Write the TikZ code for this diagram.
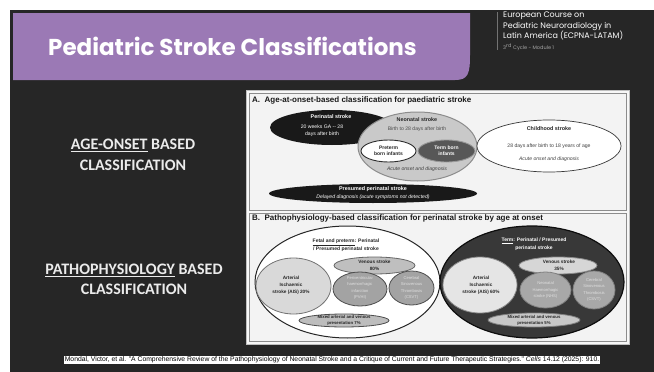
\documentclass[tikz,border=0pt]{standalone}
\usepackage{fontspec}
\setmainfont{Carlito}
\newfontfamily\titlefont{Poppins}
\newfontfamily\citefont{Liberation Sans}
\newfontfamily\figfont{Liberation Sans}
\usetikzlibrary{shapes.geometric}
\definecolor{slidebg}{RGB}{38,38,38}
\definecolor{purp}{RGB}{155,121,181}
\definecolor{panelbg}{RGB}{243,243,243}
\tikzset{
  ell/.style={ellipse, inner sep=0pt, draw=none},
  tx/.style={inner sep=0pt, align=center, text=black!85},
  hdA/.style={tx, font=\figfont\bfseries\fontsize{5.4}{6.8}\selectfont},
  nmA/.style={tx, font=\figfont\fontsize{5.1}{6.8}\selectfont},
  itA/.style={tx, font=\figfont\itshape\fontsize{5.1}{6.8}\selectfont},
  bB/.style={tx, font=\figfont\bfseries\fontsize{4.7}{7}\selectfont},
  sB/.style={tx, font=\figfont\fontsize{4.1}{6.6}\selectfont, text=black!12},
  mB/.style={tx, font=\figfont\bfseries\fontsize{4.3}{6}\selectfont},
  lbl/.style={inner sep=0pt, text=black!8, font=\bfseries\fontsize{16}{17}\selectfont},
  ptitle/.style={anchor=west, inner sep=0pt, font=\figfont\bfseries\fontsize{8}{9}\selectfont, text=black!90},
}
\begin{document}
\begin{tikzpicture}[x=1pt,y=-1pt]
\useasboundingbox (0,0) rectangle (654,372);
\fill[white] (0,0) rectangle (654,372);
\fill[slidebg] (10,10) rectangle (654,372);
% header
\fill[purp] (13,13) -- (470,13) -- (470,55) .. controls (470,74) and (468,80) .. (455,80) -- (13,80) -- cycle;
\node[anchor=west, inner sep=0pt, text=white, font=\titlefont\bfseries\fontsize{23}{24}\selectfont] (title) at (48,46) {Pediatric Stroke Classifications};
\draw[black!55, line width=.5pt] (497,12) -- (497,50);
\node[anchor=north west, inner sep=0pt, align=left, text=white, font=\titlefont\fontsize{8}{10.3}\selectfont] (course) at (503,12) {European Course on\\Pediatric Neuroradiology in\\Latin America (ECPNA-LATAM)};
\node[anchor=west, inner sep=0pt, text=black!35, font=\titlefont\fontsize{5}{5}\selectfont] (cycle) at (503,47) {3\textsuperscript{rd} Cycle - Module 1};
% left labels
\node[lbl] (age1) at (133,145) {\underline{AGE-ONSET} BASED};
\node[lbl] (age2) at (133,165) {CLASSIFICATION};
\node[lbl] (pat1) at (134,270) {\underline{PATHOPHYSIOLOGY} BASED};
\node[lbl] (pat2) at (134,289) {CLASSIFICATION};
% figure frame
\filldraw[fill=white!97!black, draw=black!25, line width=.6pt] (246,90) rectangle (629,344);
\filldraw[fill=panelbg, draw=black!45, line width=.8pt] (249,93) rectangle (626,210);
\filldraw[fill=panelbg, draw=black!45, line width=.8pt] (249,213) rectangle (626,341);
% panel A
\node[ptitle] (tA) at (252,100.5) {A.\ \ Age-at-onset-based classification for paediatric stroke};
\node[ell, fill=black!90, minimum width=124pt, minimum height=35pt] (peri) at (332,127.5) {};
\node[ell, fill=black!21, draw=black!45, line width=1pt, minimum width=119pt, minimum height=69pt] (neo) at (417.5,146.5) {};
\node[ell, fill=white, draw=black!82, line width=.9pt, minimum width=55pt, minimum height=22pt] (pre) at (388.5,151) {};
\node[ell, fill=black!66, draw=black!40, line width=.9pt, minimum width=57pt, minimum height=22pt] (term) at (446.5,151) {};
\node[ell, fill=white, draw=black!78, line width=.7pt, minimum width=144pt, minimum height=52pt] (child) at (549,146) {};
\node[ell, fill=black!90, minimum width=208pt, minimum height=19pt] (pres) at (373,193.5) {};
\node[hdA, text=white] (periT) at (331,117) {Perinatal stroke};
\node[nmA, text=white] (periD) at (322,131) {20 weeks GA -- 28\\days after birth};
\node[hdA] (neoT) at (417,119.5) {Neonatal stroke};
\node[nmA, text=black!70] (neoD) at (417,129) {Birth to 28 days after birth};
\node[hdA, font=\figfont\bfseries\fontsize{5}{6.3}\selectfont] (preT) at (388.5,151) {Preterm\\born infants};
\node[hdA, text=white, font=\figfont\bfseries\fontsize{5}{6.3}\selectfont] (termT) at (446.5,151) {Term born\\infants};
\node[itA, text=black!75] (neoA) at (417,169.5) {Acute onset and diagnosis};
\node[hdA] (childT) at (549,128.5) {Childhood stroke};
\node[nmA, text=black!75] (childD) at (549,146) {28 days after birth to 18 years of age};
\node[itA, text=black!75] (childA) at (549,159) {Acute onset and diagnosis};
\node[hdA, text=white] (presT) at (373,189.5) {Presumed perinatal stroke};
\node[itA, text=white] (presD) at (373,197) {Delayed diagnosis (acute symptoms not detected)};
% panel B
\node[ptitle] (tB) at (252,218) {B.\ \ Pathophysiology-based classification for perinatal stroke by age at onset};
\node[ell, fill=white, draw=black!85, line width=1pt, minimum width=185pt, minimum height=112pt] (fetal) at (347.5,282) {};
\node[ell, fill=black!78, draw=black!95, line width=1.2pt, minimum width=184pt, minimum height=112pt] (termB) at (532,282) {};
\node[ell, fill=black!15, draw=black!55, line width=.8pt, minimum width=75pt, minimum height=56pt] (aisL) at (293.5,286) {};
\node[ell, fill=black!25, draw=black!60, line width=.8pt, minimum width=81pt, minimum height=17pt] (venL) at (374.5,265.5) {};
\node[ell, fill=black!36, draw=black!70, line width=.8pt, minimum width=54pt, minimum height=34pt] (pvhi) at (360,289) {};
\node[ell, fill=black!36, draw=black!70, line width=.8pt, minimum width=45pt, minimum height=34pt] (csvtL) at (411.5,288) {};
\node[ell, fill=black!26, draw=black!70, line width=.8pt, minimum width=90pt, minimum height=13pt] (mixL) at (344,320.5) {};
\node[ell, fill=black!10, draw=black!45, line width=.8pt, minimum width=74pt, minimum height=56pt] (aisR) at (480,285) {};
\node[ell, fill=black!16, draw=black!45, line width=.8pt, minimum width=78pt, minimum height=17pt] (venR) at (558,265.5) {};
\node[ell, fill=black!34, draw=black!50, line width=.8pt, minimum width=51pt, minimum height=36pt] (nhs) at (545.5,290) {};
\node[ell, fill=black!34, draw=black!50, line width=.8pt, minimum width=42pt, minimum height=38pt] (csvtR) at (594,290) {};
\node[ell, fill=black!22, draw=black!50, line width=.8pt, minimum width=92pt, minimum height=14pt] (mixR) at (534,320) {};
\node[bB, font=\figfont\bfseries\fontsize{5}{8}\selectfont] (fetalT) at (346,245.5) {\underline{Fetal and preterm}: Perinatal\\/ Presumed perinatal stroke};
\node[bB, text=white, font=\figfont\bfseries\fontsize{5}{8}\selectfont] (termBT) at (534,244.5) {\underline{Term}: Perinatal / Presumed\\perinatal stroke};
\node[bB] (aisLT) at (291,285) {Arterial\\Ischaemic\\stroke (AIS) 20\%};
\node[bB] (venLT) at (374.5,265.5) {Venous stroke\\80\%};
\node[sB] (pvhiT) at (360,288) {Periventricular\\haemorrhagic\\infarction\\(PVHI)};
\node[sB] (csvtLT) at (411.5,288) {Cerebral\\Sinovenous\\Thrombosis\\(CSVT)};
\node[mB] (mixLT) at (344,320.5) {Mixed arterial and venous\\presentation 7\%};
\node[bB] (aisRT) at (481,285) {Arterial\\Ischaemic\\stroke (AIS) 60\%};
\node[bB] (venRT) at (559,265.5) {Venous stroke\\35\%};
\node[sB] (nhsT) at (545.5,290) {Neonatal\\Haemorrhagic\\stroke (NHS)};
\node[sB] (csvtRT) at (594,290) {Cerebral\\Sinovenous\\Thrombosis\\(CSVT)};
\node[mB] (mixRT) at (534,320) {Mixed arterial and venous\\presentation 5\%};
% citation
\node[fill=white, text=black, inner sep=.8pt, font=\citefont\fontsize{6.8}{7.5}\selectfont] (cite) at (332,360) {Mondal, Victor, et al. "A Comprehensive Review of the Pathophysiology of Neonatal Stroke and a Critique of Current and Future Therapeutic Strategies." \textit{Cells} 14.12 (2025): 910.};
\end{tikzpicture}
\end{document}
